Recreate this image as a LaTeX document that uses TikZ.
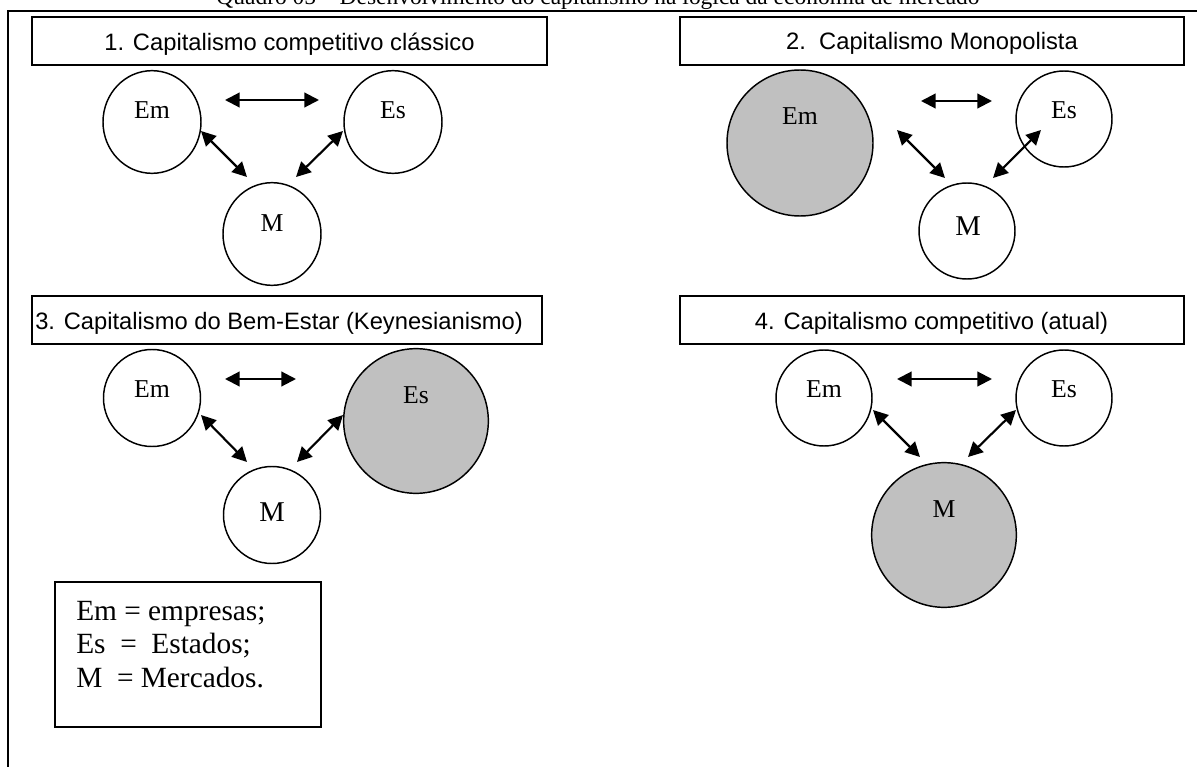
\documentclass[tikz,border=0pt]{standalone}
\usepackage{fontspec}
\setmainfont{Liberation Serif}
\newfontfamily\arialfont{Liberation Sans}
\usetikzlibrary{arrows.meta,shapes.geometric}
\definecolor{shade}{RGB}{192,192,192}
\tikzset{
  frameline/.style={line width=1.5pt},
  titlebox/.style={draw, line width=1.4pt, rectangle, inner sep=0pt, outer sep=0pt},
  bubble/.style={draw, line width=1.1pt, circle, inner sep=0pt, outer sep=0pt, minimum size=72pt},
  ovalbubble/.style={draw, line width=1.1pt, ellipse, inner sep=0pt, outer sep=0pt, minimum width=73.5pt, minimum height=77pt},
  bigbubble/.style={bubble, fill=shade, minimum size=108.5pt},
  link/.style={line width=1.6pt, <->, >={Triangle[length=11pt,width=11pt]}},
  heading/.style={font=\arialfont\fontsize{17.8}{20}\selectfont, anchor=base, inner sep=0pt},
  lbl/.style={font=\fontsize{19.3}{22}\selectfont, anchor=base, inner sep=0pt},
  biglbl/.style={font=\fontsize{21.5}{24}\selectfont, anchor=base, inner sep=0pt},
  legendtext/.style={font=\fontsize{22}{25}\selectfont, anchor=base west, inner sep=0pt},
}
\begin{document}
\begin{tikzpicture}[x=0.75pt,y=-0.75pt]
\useasboundingbox (0,0) rectangle (1197,767);
% caption (cut off at top)
\node[font=\fontsize{17.6}{20}\selectfont, anchor=base, inner sep=0pt] (caption) at (598,5)
  {Quadro 05 -- Desenvolvimento do capitalismo na lógica da economia de mercado};
% outer frame
\draw[frameline] (7.5,780) -- (7.5,11) -- (1210,11);

% ---------- Panel 1 ----------
\node[titlebox, minimum width=386.25pt, minimum height=36pt] (b1) at (289.5,41) {};
\node[heading] (t1) at (289.5,51) {1. Capitalismo competitivo clássico};
\node[ovalbubble] (em1) at (152,122) {};
\node[ovalbubble] (es1) at (393,122) {};
\node[ovalbubble] (m1) at (272,234) {};
\node[lbl] (em1t) at (152,118) {Em};
\node[lbl] (es1t) at (393,118) {Es};
\node[lbl] (m1t) at (272,231) {M};
\coordinate (h1a) at (225,100); \coordinate (h1b) at (319,100);
\coordinate (l1a) at (201,131); \coordinate (l1b) at (247,177);
\coordinate (r1a) at (343,131); \coordinate (r1b) at (296,177);
\draw[link] (h1a) -- (h1b);
\draw[link] (l1a) -- (l1b);
\draw[link] (r1a) -- (r1b);

% ---------- Panel 2 ----------
\node[titlebox, minimum width=378pt, minimum height=36pt] (b2) at (932,41) {};
\node[heading] (t2) at (932,50) {2.\ \ Capitalismo Monopolista};
\node[bigbubble, minimum size=109.5pt] (em2) at (800,143) {};
\node[bubble] (es2) at (1064,119) {};
\node[bubble] (m2) at (967,231) {};
\node[lbl] (em2t) at (800,124) {Em};
\node[lbl] (es2t) at (1064,118) {Es};
\node[biglbl] (m2t) at (968,235) {M};
\coordinate (h2a) at (921,101); \coordinate (h2b) at (992,101);
\coordinate (l2a) at (897,130); \coordinate (l2b) at (945,178);
\coordinate (r2a) at (1041,130); \coordinate (r2b) at (993,178);
\draw[link] (h2a) -- (h2b);
\draw[link] (l2a) -- (l2b);
\draw[link] (r2a) -- (r2b);

% ---------- Panel 3 ----------
\node[titlebox, minimum width=382.5pt, minimum height=36pt] (b3) at (287,320) {};
\node[heading, anchor=base west] (t3) at (35,329) {3. Capitalismo do Bem-Estar (Keynesianismo)};
\node[bubble, minimum size=72.75pt] (em3) at (152,398) {};
\node[bigbubble] (es3) at (416,421) {};
\node[bubble, minimum size=72.75pt] (m3) at (272,515) {};
\node[lbl] (em3t) at (152,397) {Em};
\node[lbl] (es3t) at (416,403) {Es};
\node[biglbl] (m3t) at (272,521) {M};
\coordinate (h3a) at (225,379); \coordinate (h3b) at (296,379);
\coordinate (l3a) at (201,415); \coordinate (l3b) at (247,462);
\coordinate (r3a) at (343,415); \coordinate (r3b) at (297,462);
\draw[link] (h3a) -- (h3b);
\draw[link] (l3a) -- (l3b);
\draw[link] (r3a) -- (r3b);

% ---------- Panel 4 ----------
\node[titlebox, minimum width=378pt, minimum height=36pt] (b4) at (932,320) {};
\node[heading] (t4) at (931.5,329) {4. Capitalismo competitivo (atual)};
\node[bubble] (em4) at (824,398) {};
\node[bubble] (es4) at (1064,398) {};
\node[bigbubble] (m4) at (944,535) {};
\node[lbl] (em4t) at (824,397) {Em};
\node[lbl] (es4t) at (1064,397) {Es};
\node[lbl] (m4t) at (944,517) {M};
\coordinate (h4a) at (897,379); \coordinate (h4b) at (992,379);
\coordinate (l4a) at (873,410); \coordinate (l4b) at (920,457);
\coordinate (r4a) at (1016,410); \coordinate (r4b) at (968,457);
\draw[link] (h4a) -- (h4b);
\draw[link] (l4a) -- (l4b);
\draw[link] (r4a) -- (r4b);

% ---------- Legend ----------
\node[titlebox, minimum width=199.5pt, minimum height=108.75pt] (legend) at (188,654.5) {};
\node[legendtext] (lg1) at (76,620) {Em = empresas;};
\node[legendtext] (lg2) at (76,653) {Es\ \ =\ \ Estados;};
\node[legendtext] (lg3) at (76,687) {M\ \ = Mercados.};
\end{tikzpicture}
\end{document}
